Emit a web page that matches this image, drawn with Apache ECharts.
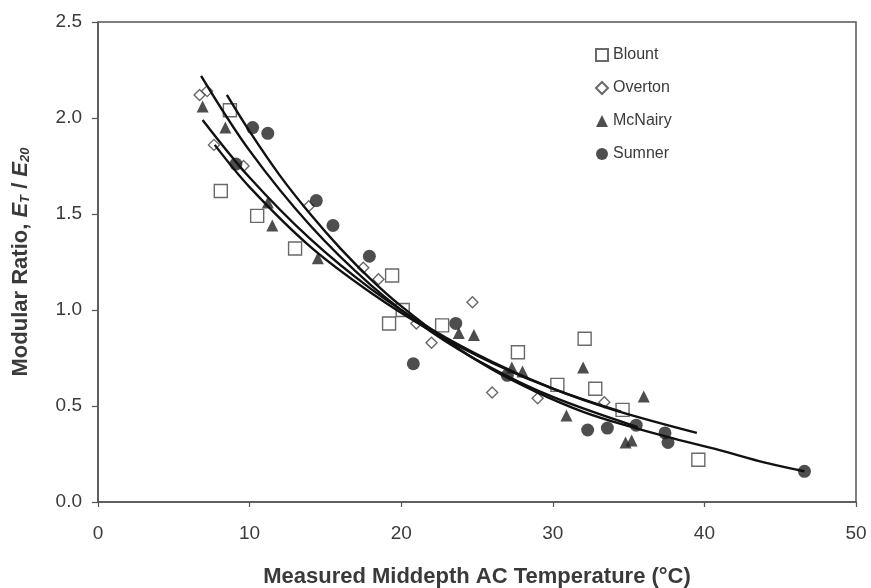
<!DOCTYPE html>
<html>
<head>
<meta charset="utf-8">
<script src="https://cdn.jsdelivr.net/npm/echarts@6/dist/echarts.min.js"></script>
<style>
  html, body { margin: 0; padding: 0; background: #fff; }
  #chart { width: 871px; height: 588px; }
</style>
</head>
<body>
<div id="chart"></div>
<script>
// Measured modular ratios by site: [temperature °C, E_T/E_20]
const blount = [[8.1,1.62],[8.7,2.04],[10.5,1.49],[13.0,1.32],[19.2,0.93],[19.4,1.18],[20.1,1.0],[22.7,0.92],[27.7,0.78],[30.3,0.61],[32.1,0.85],[32.8,0.59],[34.6,0.48],[39.6,0.22]];
const overton = [[6.7,2.12],[7.2,2.14],[7.65,1.86],[9.6,1.75],[13.9,1.54],[17.5,1.22],[18.5,1.16],[21.0,0.93],[22.0,0.83],[24.7,1.04],[26.0,0.57],[29.0,0.54],[33.4,0.52]];
const mcnairy = [[6.9,2.06],[8.4,1.95],[11.2,1.56],[11.5,1.44],[14.5,1.27],[23.8,0.88],[24.8,0.87],[27.3,0.70],[28.0,0.68],[30.9,0.45],[32.0,0.70],[34.8,0.31],[35.2,0.32],[36.0,0.55]];
const sumner = [[9.1,1.76],[10.2,1.95],[11.2,1.92],[14.4,1.57],[15.5,1.44],[17.9,1.28],[20.8,0.72],[23.6,0.93],[27.0,0.66],[32.3,0.375],[33.6,0.385],[35.5,0.40],[37.4,0.36],[37.6,0.31],[46.6,0.16]];

// Trend curves for each site (points along the fitted curve)
const fitBlount = [[6.8,2.22],[10,1.83],[14,1.44],[18,1.13],[22,0.886],[26,0.696],[30,0.547],[35.6,0.39]];
const fitOverton = [[7.7,1.86],[10,1.64],[14,1.33],[18,1.09],[22,0.89],[26,0.725],[30,0.59],[34.5,0.47]];
const fitMcNairy = [[6.9,1.99],[10,1.69],[14,1.37],[18,1.11],[22,0.90],[26,0.73],[30,0.59],[34,0.48],[39.5,0.36]];
const fitSumner = [[8.5,2.12],[10,1.93],[12,1.70],[14,1.50],[16,1.32],[18,1.16],[20,1.02],[23,0.84],[26,0.69],[29,0.57],[32,0.47],[35,0.395],[38,0.33],[41,0.27],[44,0.205],[46.6,0.16]];

const xTicks = { min: 0, max: 50, interval: 10 };
const yTicks = { min: 0, max: 2.5, interval: 0.5 };

const ink = '#222';
const axisGrey = '#555';
const textGrey = '#3a3a3a';
const font = '"Liberation Sans", Arial, sans-serif';

function pointSeries(name, data, symbol, size, filled) {
  return {
    name, type: 'scatter', data, symbol, symbolSize: size, z: 2,
    itemStyle: filled
      ? { color: ink, borderColor: ink, borderWidth: 0 }
      : { color: '#fff', borderColor: '#444', borderWidth: 1.4 }
  };
}
function curveSeries(name, data) {
  return {
    name, type: 'line', data, smooth: 0.35, symbol: 'none', z: 3,
    lineStyle: { color: '#111', width: 2.4 }, silent: true
  };
}

const chart = echarts.init(document.getElementById('chart'), null, { renderer: 'canvas' });
chart.setOption({
  animation: false,
  backgroundColor: '#fff',
  grid: {
    left: 98, right: 15, top: 22, bottom: 86, outerBoundsMode: 'none', containLabel: false,
    show: true, borderColor: axisGrey, borderWidth: 1.5, backgroundColor: 'transparent'
  },
  legend: {
    data: ['Blount', 'Overton', 'McNairy', 'Sumner'],
    orient: 'vertical', left: 590, top: 42, itemGap: 17,
    itemWidth: 12, itemHeight: 12,
    textStyle: { fontFamily: font, fontSize: 16, color: textGrey }
  },
  xAxis: {
    type: 'value', min: xTicks.min, max: xTicks.max, interval: xTicks.interval,
    name: 'Measured Middepth AC Temperature (°C)', nameLocation: 'middle', nameGap: 64,
    nameTextStyle: { fontFamily: font, fontSize: 22, fontWeight: 'bold', color: textGrey },
    axisLine: { show: true, lineStyle: { color: axisGrey, width: 1.5 } },
    axisTick: { show: true, inside: false, length: 5, lineStyle: { color: axisGrey, width: 1.2 } },
    axisLabel: { fontFamily: font, fontSize: 19, color: textGrey, margin: 22 },
    splitLine: { show: false }
  },
  yAxis: {
    type: 'value', min: yTicks.min, max: yTicks.max, interval: yTicks.interval,
    name: '{a|Modular Ratio, }{i|E}{s|T}{a| / }{i|E}{s|20}',
    nameLocation: 'middle', nameGap: 66, nameRotate: 90,
    nameTextStyle: {
      rich: {
        a: { fontFamily: font, fontSize: 22, fontWeight: 'bold', color: textGrey },
        i: { fontFamily: font, fontSize: 22, fontWeight: 'bold', fontStyle: 'italic', color: textGrey },
        s: { fontFamily: font, fontSize: 13, fontWeight: 'bold', fontStyle: 'italic', color: textGrey, verticalAlign: 'bottom', padding: [10, 0, 0, 0] }
      }
    },
    axisLine: { show: true, lineStyle: { color: axisGrey, width: 1.5 } },
    axisTick: { show: true, inside: false, length: 6, lineStyle: { color: axisGrey, width: 1.2 } },
    axisLabel: { fontFamily: font, fontSize: 19, color: textGrey, margin: 16, formatter: v => v.toFixed(1) },
    splitLine: { show: false }
  },
  series: [
    pointSeries('Blount', blount, 'rect', 13, false),
    pointSeries('Overton', overton, 'diamond', 11, false),
    pointSeries('McNairy', mcnairy, 'triangle', 12, true),
    pointSeries('Sumner', sumner, 'circle', 13, true),
    curveSeries('Blount fit', fitBlount),
    curveSeries('Overton fit', fitOverton),
    curveSeries('McNairy fit', fitMcNairy),
    curveSeries('Sumner fit', fitSumner)
  ]
});
</script>
</body>
</html>
